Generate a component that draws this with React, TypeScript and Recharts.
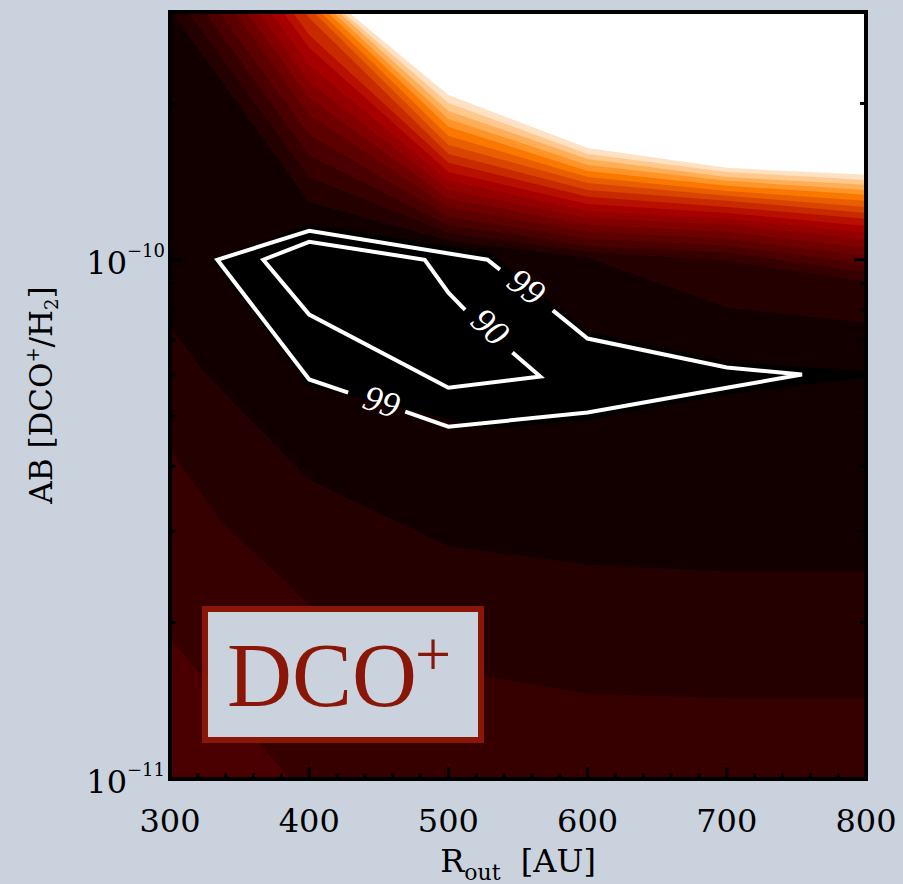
import React from "react";
import { ComposedChart, Area, Scatter, XAxis, YAxis } from "recharts";

const PAGE_BG = "#cad2de";
const INK = "#000";
const BOX_RED = "#8a1608";

const R_MIN = 300;
const R_MAX = 800;
const AB_MIN = 1e-11;
const AB_MAX = 3e-10;
const E10 = 1e-10; // abundances below are listed in units of 1e-10

// filled-contour palette, from the band next to the minimum up to white
const levelColors = [
  "#120000", "#240000", "#370000", "#4a0000", "#5c0000", "#6f0000", "#820000",
  "#940000", "#a60000", "#b81000", "#c82a00", "#d94400", "#ea5e00", "#fa7800",
  "#ff9428", "#ffae58", "#ffc88c", "#ffe2c4", "#ffffff",
];

// upper contour levels 2..19: R where each leaves the top of the frame,
// then its abundance on the model grid columns
const gridR = [400, 500, 600, 700, 800];
const upperExitR = [301, 313, 325, 335, 346, 355, 363, 372, 381, 388, 397, 403, 408, 413, 417, 421, 424, 428];
const upperAt400 = [1.29, 1.44, 1.59, 1.74, 1.9, 2.05, 2.2, 2.37, 2.56, 2.71, 2.92, null, null, null, null, null, null, null];
const upperAt500 = [1.088, 1.127, 1.168, 1.21, 1.259, 1.31, 1.363, 1.419, 1.476, 1.537, 1.599, 1.664, 1.732, 1.803, 1.867, 1.934, 2.004, 2.076];
const upperAt600 = [1.009, 1.036, 1.064, 1.097, 1.132, 1.168, 1.204, 1.242, 1.281, 1.322, 1.363, 1.406, 1.444, 1.483, 1.523, 1.564, 1.599, 1.642];
const upperAt700 = [0.809, 0.996, 1.032, 1.064, 1.097, 1.132, 1.168, 1.199, 1.231, 1.264, 1.299, 1.328, 1.357, 1.388, 1.419, 1.444, 1.476, 1.503];
const upperAt800 = [0.756, 0.907, 0.948, 0.982, 1.018, 1.054, 1.093, 1.127, 1.162, 1.199, 1.231, 1.264, 1.299, 1.334, 1.363, 1.394, 1.425, 1.457];

// lower contour levels 2..4 (filled down to the bottom of the frame)
const lowerR = [
  [300, 325, 400, 500, 600, 700, 800],
  [300, 337, 400, 500, 600, 700, 800],
  [300, 386],
];
const lowerAb = [
  [0.743, 0.606, 0.377, 0.281, 0.259, 0.251, 0.251],
  [0.431, 0.313, 0.217, 0.162, 0.146, 0.143, 0.143],
  [0.186, 0.1],
];

// the minimum (black) region
const wellR = [330, 400, 530, 600, 700, 800];
const wellLow = [1.0, 0.572, 0.473, 0.492, 0.55, 0.593];
const wellHigh = [1.0, 1.17, 1.03, 0.727, 0.637, 0.609];

// confidence contours, split where their labels sit
const c99RightR = [575, 600, 700, 754, 700, 600, 500, 469];
const c99RightAb = [0.799, 0.705, 0.62, 0.601, 0.567, 0.508, 0.477, 0.51];
const c99LeftR = [428, 400, 334, 400, 528, 537];
const c99LeftAb = [0.555, 0.588, 1.0, 1.137, 1.0, 0.957];
const c90R = [546, 566, 500, 400, 367, 400, 483, 500, 512];
const c90Ab = [0.663, 0.596, 0.567, 0.784, 1.0, 1.083, 1.0, 0.864, 0.801];

const labelText = ["99", "90", "99"];
const labelR = [556, 530, 452];
const labelAb = [0.887, 0.743, 0.533];
const labelAngle = [37, 43, 18];

const rMajor = [300, 400, 500, 600, 700, 800];
const rMinor = [320, 340, 360, 380, 420, 440, 460, 480, 520, 540, 560, 580, 620, 640, 660, 680, 720, 740, 760, 780];
const abMajor = [1e-11, 1e-10];
const abMinor = [2e-11, 3e-11, 4e-11, 5e-11, 6e-11, 7e-11, 8e-11, 9e-11, 2e-10, 3e-10];

const pts = (rs: number[], abs: number[]) => rs.map((r, i) => ({ r, ab: abs[i] * E10 }));

const upperCols = [upperAt400, upperAt500, upperAt600, upperAt700, upperAt800];
const upperBands = upperExitR.map((exit, i) => {
  const data: { r: number; ab: number }[] = [{ r: exit, ab: AB_MAX }];
  upperCols.forEach((col, j) => {
    const v = col[i];
    if (v != null) data.push({ r: gridR[j], ab: v * E10 });
  });
  return { data, color: levelColors[i + 1] };
});

const lowerBands = lowerR.map((rs, i) => ({ data: pts(rs, lowerAb[i]), color: levelColors[i + 1] }));
const baseBand = [{ r: R_MIN, ab: AB_MAX }, { r: R_MAX, ab: AB_MAX }];
const wellData = wellR.map((r, i) => ({ r, range: [wellLow[i] * E10, wellHigh[i] * E10] }));
const contourSegments = [pts(c99RightR, c99RightAb), pts(c99LeftR, c99LeftAb), pts(c90R, c90Ab)];
const labelData = labelText.map((text, i) => ({ r: labelR[i], ab: labelAb[i] * E10, text, angle: labelAngle[i] }));

const rTicks = [...rMajor, ...rMinor].sort((a, b) => a - b);
const abTicks = [...abMajor, ...abMinor].sort((a, b) => a - b);

const SERIF = "DejaVu Serif";
const frameStroke = { stroke: INK, strokeWidth: 4, strokeLinecap: "square" as const };

const rLabel = (x: number, y: number, v: number) => (
  <text x={x} y={y + 53} textAnchor="middle" fontFamily={SERIF} fontSize={32} fill={INK}>
    {v}
  </text>
);

const abLabel = (x: number, y: number, v: number) => (
  <text x={x - 5} y={y + 14} textAnchor="end" fontFamily={SERIF} fontSize={32} fill={INK}>
    10
    <tspan fontSize={18} dy={-17}>{"\u2212" + Math.abs(Math.round(Math.log10(v)))}</tspan>
  </text>
);

// inward tick marks on the frame; majors are longer and may carry a label
function FrameTick(props: any) {
  const { x, y, payload, side, majors, label } = props;
  const major = majors.includes(payload.value);
  const len = major ? 12 : 6;
  const dx = side === "left" ? len : side === "right" ? -len : 0;
  const dy = side === "bottom" ? -len : side === "top" ? len : 0;
  return (
    <g>
      <line x1={x} y1={y} x2={x + dx} y2={y + dy} stroke={INK} strokeWidth={3} />
      {label && major ? label(x, y, payload.value) : null}
    </g>
  );
}

const noDot = () => <g />;

const contourLabel = (props: any) => {
  const { cx, cy, payload } = props;
  return (
    <text
      x={cx}
      y={cy}
      textAnchor="middle"
      dominantBaseline="central"
      transform={`rotate(${payload.angle} ${cx} ${cy})`}
      fill="#fff"
      fontFamily="Liberation Serif"
      fontStyle="italic"
      fontSize={36}
    >
      {payload.text}
    </text>
  );
};

export default function App() {
  const xCommon = {
    type: "number" as const, domain: [R_MIN, R_MAX], allowDataOverflow: true, interval: 0 as const,
    height: 1, ticks: rTicks, tickSize: 0, tickMargin: 0, tickLine: false, axisLine: frameStroke,
  };
  const yCommon = {
    type: "number" as const, scale: "log" as const, domain: [AB_MIN, AB_MAX], allowDataOverflow: true, interval: 0 as const,
    width: 1, ticks: abTicks, tickSize: 0, tickMargin: 0, tickLine: false, axisLine: frameStroke,
  };

  return (
    <div style={{ position: "fixed", left: 0, top: 0, width: 903, height: 884, background: PAGE_BG }}>
      <ComposedChart width={903} height={884} margin={{ top: 11, right: 36, bottom: 104, left: 169 }}>
        <Area xAxisId="b" yAxisId="l" data={baseBand} dataKey="ab" baseValue="dataMin" type="linear"
          fill={levelColors[0]} fillOpacity={1} stroke="none" dot={false} activeDot={false} isAnimationActive={false} />
        {lowerBands.map((band, i) => (
          <Area key={"lo" + i} xAxisId="b" yAxisId="l" data={band.data} dataKey="ab" baseValue="dataMin" type="linear"
            fill={band.color} fillOpacity={1} stroke="none" dot={false} activeDot={false} isAnimationActive={false} />
        ))}
        <Area xAxisId="b" yAxisId="l" data={wellData} dataKey="range" type="linear"
          fill="#000" fillOpacity={1} stroke="none" dot={false} activeDot={false} isAnimationActive={false} />
        {upperBands.map((band, i) => (
          <Area key={"up" + i} xAxisId="b" yAxisId="l" data={band.data} dataKey="ab" baseValue="dataMax" type="linear"
            fill={band.color} fillOpacity={1} stroke="none" dot={false} activeDot={false} isAnimationActive={false} />
        ))}

        {contourSegments.map((seg, i) => (
          <Scatter key={"c" + i} xAxisId="b" yAxisId="l" data={seg} shape={noDot} fill="none"
            line={{ stroke: "#fff", strokeWidth: 4 }} lineJointType="linear" isAnimationActive={false} />
        ))}
        <Scatter xAxisId="b" yAxisId="l" data={labelData} shape={contourLabel} isAnimationActive={false} />

        <XAxis xAxisId="b" dataKey="r" orientation="bottom" {...xCommon}
          tick={<FrameTick side="bottom" majors={rMajor} label={rLabel} />} />
        <XAxis xAxisId="t" orientation="top" {...xCommon}
          tick={<FrameTick side="top" majors={rMajor} />} />
        <YAxis yAxisId="l" dataKey="ab" orientation="left" {...yCommon}
          tick={<FrameTick side="left" majors={abMajor} label={abLabel} />} />
        <YAxis yAxisId="r" orientation="right" {...yCommon}
          tick={<FrameTick side="right" majors={abMajor} />} />
      </ComposedChart>

      <svg width={903} height={884} style={{ position: "absolute", left: 0, top: 0, pointerEvents: "none" }}>
        <text x={518} y={872} textAnchor="middle" fontFamily={SERIF} fontSize={32} fill={INK}>
          R<tspan fontSize={22} dy={8}>out</tspan>
          <tspan dy={-8}>{"\u00a0\u00a0[AU]"}</tspan>
        </text>
        <text transform="translate(52 395) rotate(-90)" textAnchor="middle" fontFamily={SERIF} fontSize={31} fill={INK}>
          {"AB [DCO"}
          <tspan fontSize={18} dy={-13}>+</tspan>
          <tspan dy={13}>/H</tspan>
          <tspan fontSize={18} dy={6}>2</tspan>
          <tspan dy={-6}>]</tspan>
        </text>
        <rect x={205} y={609} width={276} height={131} fill={PAGE_BG} stroke={BOX_RED} strokeWidth={6} />
        <text x={227} y={706} fontFamily="Liberation Serif" fontSize={90} fill={BOX_RED}>DCO</text>
        <text x={415} y={676} fontFamily="Liberation Serif" fontSize={64} fill={BOX_RED}>+</text>
      </svg>
    </div>
  );
}
